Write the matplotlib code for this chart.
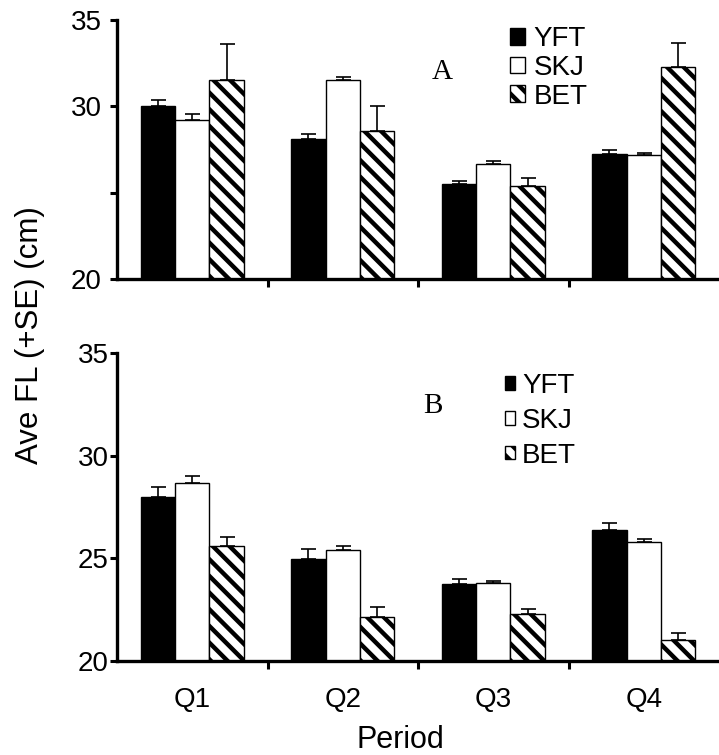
import matplotlib.pyplot as plt
from matplotlib.ticker import FixedLocator, NullFormatter
import numpy as np

plt.rcParams['font.family'] = ['Liberation Sans', 'DejaVu Sans']
plt.rcParams['hatch.linewidth'] = 3.2

periods = ['Q1', 'Q2', 'Q3', 'Q4']
species = ['YFT', 'SKJ', 'BET']

# panel A: mean fork length and SE
a_yft = [30.0, 28.1, 25.5, 27.25]
a_skj = [29.2, 31.5, 26.65, 27.2]
a_bet = [31.5, 28.6, 25.4, 32.25]
a_yft_se = [0.35, 0.3, 0.2, 0.2]
a_skj_se = [0.33, 0.2, 0.2, 0.1]
a_bet_se = [2.1, 1.4, 0.45, 1.4]

# panel B
b_yft = [28.0, 24.95, 23.75, 26.4]
b_skj = [28.65, 25.4, 23.8, 25.8]
b_bet = [25.6, 22.15, 22.3, 21.0]
b_yft_se = [0.45, 0.5, 0.22, 0.33]
b_skj_se = [0.35, 0.2, 0.08, 0.12]
b_bet_se = [0.45, 0.5, 0.22, 0.36]

W, H = 719, 755
fig = plt.figure(figsize=(7.19, 7.55), dpi=100)
left = 117 / W
width = 1 - left
ax_a = fig.add_axes([left, 1 - 279 / H, width, (279 - 20) / H])
ax_b = fig.add_axes([left, 1 - 661 / H, width, (661 - 353) / H])

bw = 0.229
styles = [dict(color='black', edgecolor='black'),
          dict(color='white', edgecolor='black'),
          dict(color='white', edgecolor='black', hatch='\\\\')]


def draw(ax, vals, ses, yticks, ylabels, letter, letter_xy, leg_xy, hsize, hpad, lspace, ypad):
    x = np.arange(len(periods)) + 0.5
    handles = []
    for j, (v, se) in enumerate(zip(vals, ses)):
        xs = x + (j - 1) * bw
        ax.errorbar(xs, v, yerr=[np.zeros(len(se)), se], fmt='none',
                    ecolor='black', elinewidth=1.2, capsize=5.4, capthick=1.2, zorder=1)
        b = ax.bar(xs, v, bw, linewidth=1.0, label=species[j], zorder=2, **styles[j])
        handles.append(b)
    ax.set_xlim(0, 4)
    ax.set_ylim(20, 35)
    ax.set_yticks(yticks)
    ax.set_yticklabels(ylabels)
    ax.set_xticks(x)
    ax.set_xticklabels(periods)
    ax.xaxis.set_minor_locator(FixedLocator([1, 2, 3]))
    ax.xaxis.set_minor_formatter(NullFormatter())
    ax.tick_params(axis='x', which='major', length=0, pad=19, labelsize=20)
    ax.tick_params(axis='x', which='minor', length=6, width=2.2, direction='out')
    ax.tick_params(axis='y', length=5, width=2.2, direction='out', pad=ypad, labelsize=20)
    for s in ['top', 'right']:
        ax.spines[s].set_visible(False)
    for s in ['left', 'bottom']:
        ax.spines[s].set_linewidth(2.4)
    fig.text(letter_xy[0] / W, 1 - letter_xy[1] / H, letter, family='Liberation Serif',
             fontsize=21, ha='center', va='center')
    ax.legend(handles=handles, loc='upper left', bbox_to_anchor=(leg_xy[0] / W, 1 - leg_xy[1] / H),
              bbox_transform=fig.transFigure, frameon=False, fontsize=20,
              handlelength=hsize, handleheight=hsize, handletextpad=hpad,
              labelspacing=lspace, borderpad=0, borderaxespad=0)


draw(ax_a, [a_yft, a_skj, a_bet], [a_yft_se, a_skj_se, a_bet_se],
     [20, 25, 30, 35], ['20', '', '30', '35'], 'A', (442, 72), (510, 26), 0.55, 0.3, 0.1, 6)
draw(ax_b, [b_yft, b_skj, b_bet], [b_yft_se, b_skj_se, b_bet_se],
     [20, 25, 30, 35], ['20', '25', '30', '35'], 'B', (433, 406), (505, 373), 0.36, 0.25, 0.32, 1)
ax_a.set_xticklabels([])

fig.text(30 / W, 1 - 335 / H, 'Ave FL (+SE) (cm)', rotation=90, fontsize=22.5,
         ha='center', va='center')
fig.text(400 / W, 1 - 740 / H, 'Period', fontsize=22, ha='center', va='center')

plt.savefig('out.png', dpi=100)
